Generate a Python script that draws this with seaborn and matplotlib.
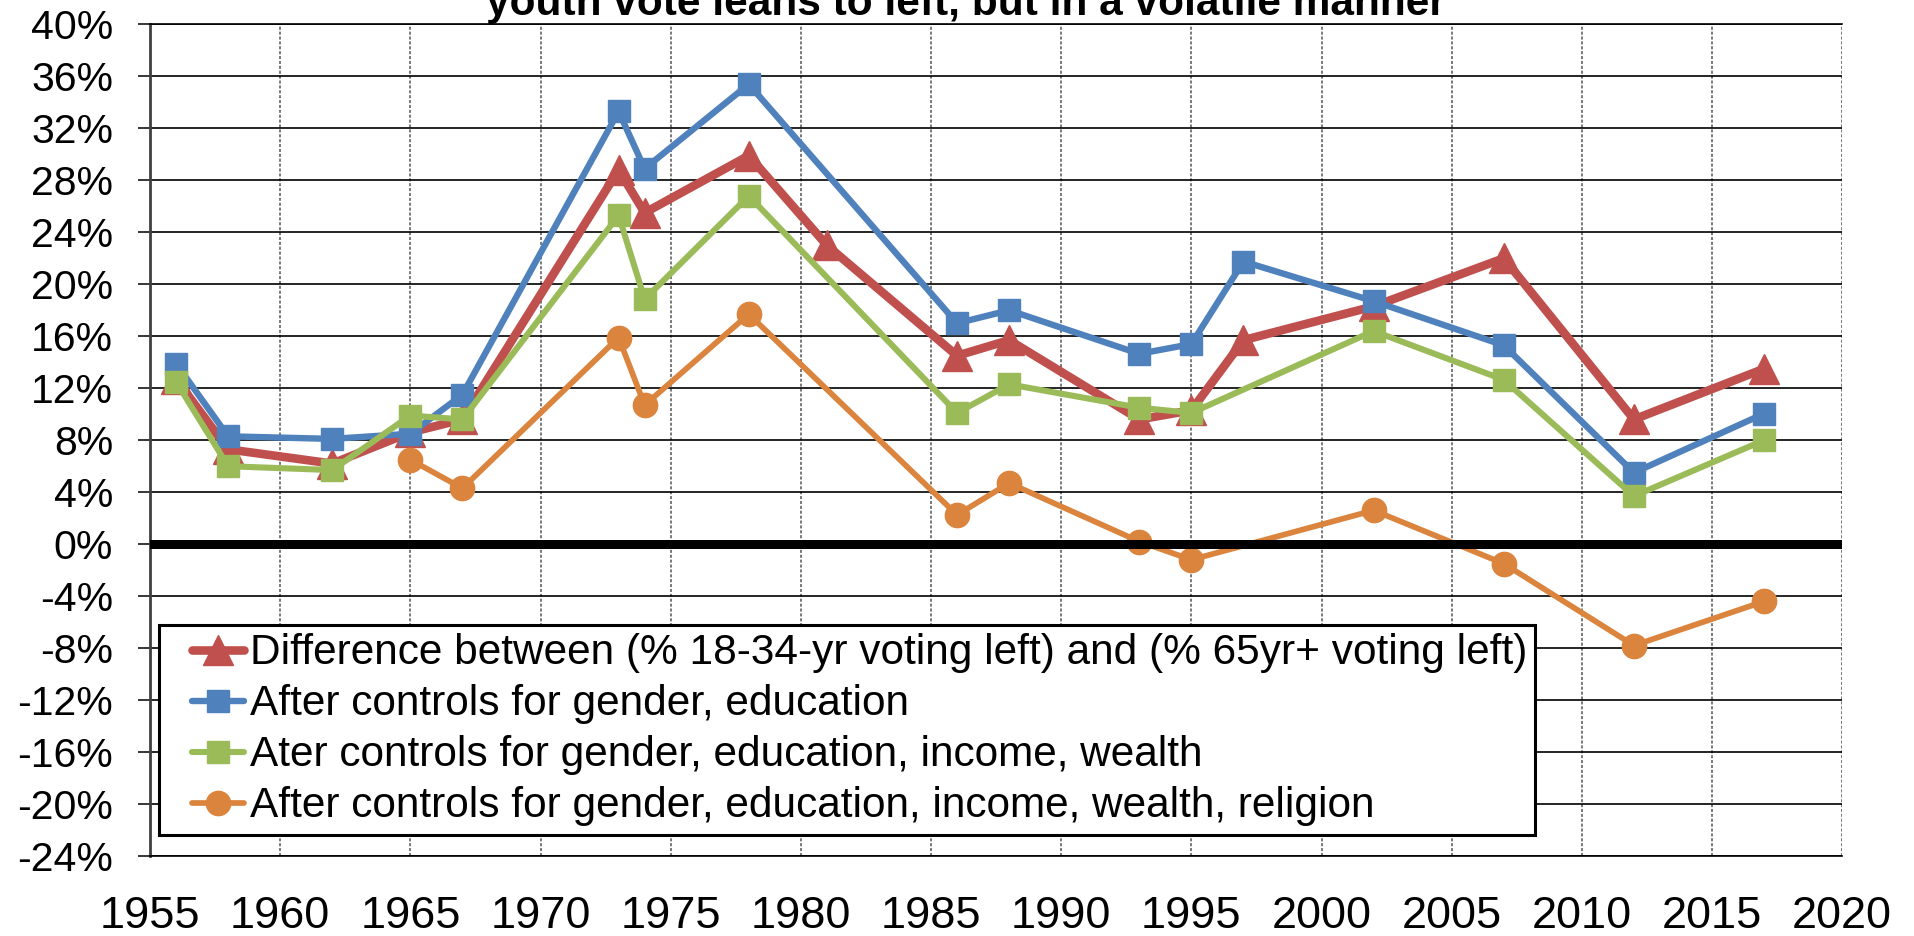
import matplotlib

matplotlib.use("Agg")
import matplotlib.pyplot as plt
import seaborn as sns
from matplotlib.legend_handler import HandlerLine2D
from matplotlib.lines import Line2D
from matplotlib.ticker import FuncFormatter, MultipleLocator

# --- data --------------------------------------------------------------------
TITLE = "youth vote leans to left, but in a volatile manner"

LABELS = [
    "Difference between (% 18-34-yr voting left) and (% 65yr+ voting left)",
    "After controls for gender, education",
    "Ater controls for gender, education, income, wealth",
    "After controls for gender, education, income, wealth, religion",
]

years_raw = [1956, 1958, 1962, 1965, 1967, 1973, 1974, 1978, 1981, 1986,
             1988, 1993, 1995, 1997, 2002, 2007, 2012, 2017]
diff_raw = [12.7, 7.3, 6.2, 8.6, 9.6, 28.8, 25.5, 29.9, 23.0, 14.5,
            15.7, 9.6, 10.3, 15.7, 18.3, 22.0, 9.6, 13.5]

years_edu = [1956, 1958, 1962, 1965, 1967, 1973, 1974, 1978, 1986, 1988,
             1993, 1995, 1997, 2002, 2007, 2012, 2017]
diff_edu = [13.9, 8.3, 8.1, 8.5, 11.5, 33.3, 28.9, 35.4, 17.0, 18.0,
            14.65, 15.4, 21.75, 18.7, 15.3, 5.5, 10.05]

years_wealth = [1956, 1958, 1962, 1965, 1967, 1973, 1974, 1978, 1986, 1988,
                1993, 1995, 2002, 2007, 2012, 2017]
diff_wealth = [12.5, 6.0, 5.7, 9.9, 9.6, 25.3, 18.85, 26.8, 10.1, 12.3,
               10.5, 10.1, 16.4, 12.65, 3.7, 8.0]

years_relig = [1965, 1967, 1973, 1974, 1978, 1986, 1988, 1993, 1995, 2002,
               2007, 2012, 2017]
diff_relig = [6.5, 4.3, 15.9, 10.7, 17.7, 2.25, 4.7, 0.2, -1.2, 2.6,
              -1.5, -7.8, -4.4]

COLORS = ["#C0504D", "#4F81BD", "#9BBB59", "#DB843D"]

# --- figure ------------------------------------------------------------------
sns.set_theme(style="white")
plt.rcParams["font.family"] = ["Liberation Sans", "DejaVu Sans"]
plt.rcParams["text.color"] = "black"
plt.rcParams["xtick.color"] = "black"
plt.rcParams["ytick.color"] = "black"

fig = plt.figure(figsize=(19.15, 9.36), dpi=100)
ax = fig.add_axes([0.07833, 0.08547, 0.88367, 0.88846])

series = [
    (years_raw, diff_raw, "^", 21, 6.2),
    (years_edu, diff_edu, "s", 16.5, 4.6),
    (years_wealth, diff_wealth, "s", 16.5, 4.4),
    (years_relig, diff_relig, "o", 17.5, 4.1),
]
for (xs, ys, mk, ms, lw), color, label in zip(series, COLORS, LABELS):
    sns.lineplot(
        x=xs, y=ys, ax=ax, color=color, label=label,
        marker=mk, markersize=ms, linewidth=lw,
        markeredgecolor=color, markeredgewidth=1,
        solid_capstyle="round", solid_joinstyle="round",
        legend=False,
    )

# thick zero line sits on top of the series
ax.axhline(0, color="black", lw=6.5, zorder=4)

ax.set_xlim(1955, 2020)
ax.set_ylim(-24, 40)
ax.xaxis.set_major_locator(MultipleLocator(5))
ax.yaxis.set_major_locator(MultipleLocator(4))
ax.yaxis.set_major_formatter(FuncFormatter(lambda v, _: f"{v:.0f}%"))
ax.set_xlabel("")
ax.set_ylabel("")

ax.set_axisbelow(True)
ax.grid(axis="y", color="black", lw=1.2, ls="-")
ax.grid(axis="x", color="#555555", lw=1.1, ls=(0, (2, 1.2)))

ax.spines["right"].set_visible(False)
ax.spines["left"].set_color("#404040")
ax.spines["left"].set_linewidth(2)
for side in ("top", "bottom"):
    ax.spines[side].set_color("black")
    ax.spines[side].set_linewidth(1.2)

ax.tick_params(axis="y", which="major", left=True, length=9, width=1.1,
               color="black", direction="out", pad=17.5, labelsize=29.5,
               labelcolor="black")
ax.tick_params(axis="x", which="major", bottom=True, length=0, pad=29,
               labelsize=32.5, labelcolor="black")

handles, labels = ax.get_legend_handles_labels()
leg = ax.legend(
    handles, labels,
    loc="upper left", bbox_to_anchor=(0.0055, 0.2778), borderaxespad=0,
    fontsize=30.5, frameon=True, fancybox=False, framealpha=1,
    edgecolor="black", facecolor="white", labelcolor="black",
    borderpad=0.2, labelspacing=0.26,
    handlelength=1.79, handletextpad=0.14,
    handler_map={Line2D: HandlerLine2D(xpad=0.566)},
)
leg.get_frame().set_linewidth(2.2)
leg.set_zorder(6)

fig.text(965.7 / 1915, 1 - 15 / 936, TITLE, ha="center", va="baseline",
         fontsize=30.5, fontweight="bold", color="black")

fig.savefig("out.png", dpi=100)
plt.close(fig)
